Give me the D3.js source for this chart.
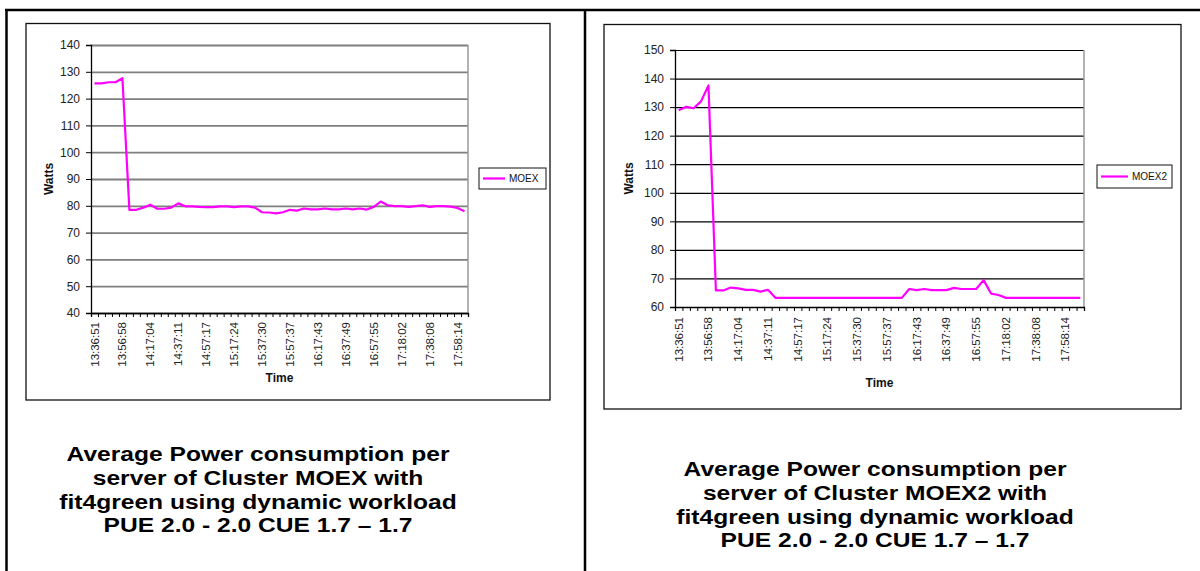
<!DOCTYPE html>
<html>
<head>
<meta charset="utf-8">
<script src="https://cdn.jsdelivr.net/npm/d3@7"></script>
<style>
  body { margin: 0; background: #fff; }
  svg { display: block; }
  text { font-family: Arial, "Liberation Sans", sans-serif; }
</style>
</head>
<body>
<svg id="page" width="1200" height="571"></svg>
<script>
// Category labels shown on the time axis (every 4th sample)
const timeTicks = ["13:36:51","13:56:58","14:17:04","14:37:11","14:57:17","15:17:24","15:37:30",
                   "15:57:37","16:17:43","16:37:49","16:57:55","17:18:02","17:38:08","17:58:14"];

// Average power per server, cluster MOEX (W), one value per sample
const moexWatts = [125.7,125.7,126.1,126.1,127.6,
  78.5,78.5,79.3,80.4,78.9,78.9,79.3,80.9,79.8,79.8,79.6,79.5,79.5,79.8,79.8,79.5,79.8,79.8,79.3,
  77.6,77.5,77.2,77.6,78.5,78.2,79.0,78.7,78.7,79.0,78.7,78.7,79.0,78.7,79.0,78.6,79.6,81.6,80.2,
  79.9,79.9,79.6,79.9,80.2,79.6,79.9,79.9,79.7,79.2,78.0];

// Average power per server, cluster MOEX2 (W)
const moex2Watts = [128.9,130.1,129.6,132.0,137.6,
  65.8,65.8,66.8,66.5,66.0,66.0,65.4,66.0,63.2,
  63.2,63.2,63.2,63.2,63.2,63.2,63.2,63.2,63.2,63.2,63.2,63.2,63.2,63.2,63.2,63.2,63.2,
  66.3,65.9,66.3,65.9,65.9,65.9,66.7,66.3,66.3,66.3,69.4,64.7,64.2,63.2,
  63.2,63.2,63.2,63.2,63.2,63.2,63.2,63.2,63.2,63.2];

const moexYTicks  = [40,50,60,70,80,90,100,110,120,130,140];
const moex2YTicks = [60,70,80,90,100,110,120,130,140,150];

const moexCaption = ["Average Power consumption per","server of Cluster MOEX with",
                     "fit4green using dynamic workload","PUE 2.0 - 2.0 CUE 1.7 \u2013 1.7"];
const moex2Caption = ["Average Power consumption per","server of Cluster MOEX2 with",
                      "fit4green using dynamic workload","PUE 2.0 - 2.0 CUE 1.7 \u2013 1.7"];

const svg = d3.select("#page");
svg.append("rect").attr("width", 1200).attr("height", 571).attr("fill", "#fff");

// Table borders around the two cells
const table = svg.append("g").attr("stroke", "#000").attr("stroke-width", 2.5);
table.append("line").attr("x1", 5).attr("x2", 1200).attr("y1", 10).attr("y2", 10);
table.append("line").attr("x1", 6.5).attr("x2", 6.5).attr("y1", 10).attr("y2", 571);
table.append("line").attr("x1", 585).attr("x2", 585).attr("y1", 10).attr("y2", 571);

function drawChart(cfg) {
  const g = svg.append("g");
  // chart frame
  g.append("rect")
    .attr("x", cfg.frame[0]).attr("y", cfg.frame[1])
    .attr("width", cfg.frame[2] - cfg.frame[0]).attr("height", cfg.frame[3] - cfg.frame[1])
    .attr("fill", "#fff").attr("stroke", "#111").attr("stroke-width", 1.3);

  const [px0, py0, px1, py1] = cfg.plot;
  const n = cfg.values.length;
  const x = d3.scaleBand().domain(d3.range(n)).range([px0, px1]);
  const xEdge = d3.scaleLinear().domain([0, n]).range([px0, px1]);
  const y = d3.scaleLinear().domain(cfg.yDomain).range([py1, py0]);

  // horizontal gridlines
  g.append("g").attr("transform", `translate(${px0},0)`)
    .call(d3.axisLeft(y).tickValues(cfg.yTicks).tickSize(-(px1 - px0)).tickFormat(""))
    .call(s => s.select(".domain").remove())
    .call(s => s.selectAll("line").attr("stroke", cfg.gridColor).attr("stroke-width", cfg.gridWidth));

  // plot area right border
  g.append("line").attr("x1", px1).attr("x2", px1).attr("y1", py0).attr("y2", py1)
    .attr("stroke", "#9a9a9a").attr("stroke-width", 1.5);

  // y axis
  g.append("g").attr("transform", `translate(${px0},0)`)
    .call(d3.axisLeft(y).tickValues(cfg.yTicks).tickSize(5).tickPadding(6))
    .call(s => s.select(".domain").attr("stroke", "#000").attr("stroke-width", 1.3))
    .call(s => s.selectAll("line").attr("stroke", "#000"))
    .call(s => s.selectAll("text").attr("font-size", 12).attr("fill", "#222")
      .style("font-family", "Arial, 'Liberation Sans', sans-serif"));

  // x axis: tick marks on category boundaries
  g.append("g").attr("transform", `translate(0,${py1})`)
    .call(d3.axisBottom(xEdge).tickValues(d3.range(n + 1)).tickSize(4).tickFormat(""))
    .call(s => s.select(".domain").attr("stroke", "#000").attr("stroke-width", 1.3))
    .call(s => s.selectAll("line").attr("stroke", "#000"));

  // x axis: category labels every 4th sample, rotated
  const labelIdx = timeTicks.map((t, k) => k * 4);
  g.append("g").attr("transform", `translate(0,${py1})`)
    .call(d3.axisBottom(x).tickValues(labelIdx).tickSize(0)
      .tickFormat(i => timeTicks[i / 4]))
    .call(s => s.select(".domain").remove())
    .call(s => s.selectAll("text")
      .attr("font-size", 11.5).attr("fill", "#222")
      .style("font-family", "Arial, 'Liberation Sans', sans-serif")
      .attr("text-anchor", "end")
      .attr("transform", "rotate(-90)")
      .attr("x", -cfg.xLabelGap).attr("y", 0).attr("dy", "0.35em"));

  // series line
  const line = d3.line().x((d, i) => x(i) + x.bandwidth() / 2).y(d => y(d));
  g.append("path").datum(cfg.values).attr("d", line)
    .attr("fill", "none").attr("stroke", "#ff00ff").attr("stroke-width", 2.2)
    .attr("stroke-linejoin", "round");

  // axis titles
  g.append("text").attr("transform", `translate(${cfg.yTitleX},${(py0 + py1) / 2}) rotate(-90)`)
    .attr("text-anchor", "middle").attr("dy", "0.35em")
    .attr("font-size", 12).attr("font-weight", "bold").attr("fill", "#111").text("Watts");
  g.append("text").attr("x", (px0 + px1) / 2).attr("y", cfg.xTitleY)
    .attr("text-anchor", "middle").attr("dy", "0.35em")
    .attr("font-size", 12).attr("font-weight", "bold").attr("fill", "#111").text("Time");

  // legend
  const [lx0, ly0, lx1, ly1] = cfg.legend;
  const lg = g.append("g");
  lg.append("rect").attr("x", lx0).attr("y", ly0).attr("width", lx1 - lx0).attr("height", ly1 - ly0)
    .attr("fill", "#fff").attr("stroke", "#111").attr("stroke-width", 1);
  const lyc = (ly0 + ly1) / 2;
  lg.append("line").attr("x1", lx0 + 4).attr("x2", lx0 + cfg.legendLine).attr("y1", lyc).attr("y2", lyc)
    .attr("stroke", "#ff00ff").attr("stroke-width", 2.2);
  lg.append("text").attr("x", lx0 + cfg.legendLine + 4).attr("y", lyc).attr("dy", "0.35em")
    .attr("font-size", 10).attr("fill", "#111").text(cfg.name);

  // caption below the chart: one text per line, widened horizontally
  const cap = g.append("g")
    .attr("transform", `translate(${cfg.capX},0) scale(1.2,1)`);
  cap.selectAll("text").data(cfg.caption).join("text")
    .attr("x", 0).attr("y", (t, k) => cfg.capY + k * 23.8)
    .attr("text-anchor", "middle")
    .attr("font-size", 20.5).attr("font-weight", "bold").attr("fill", "#000")
    .text(t => t);
}

drawChart({
  name: "MOEX", values: moexWatts, yDomain: [40, 140], yTicks: moexYTicks,
  frame: [26, 23.5, 550, 400], plot: [91, 45, 468, 313],
  gridColor: "#7f7f7f", gridWidth: 1.8, xLabelGap: 9,
  yTitleX: 48.5, xTitleY: 378,
  legend: [479, 168, 546, 189], legendLine: 26,
  caption: moexCaption, capX: 258, capY: 461
});

drawChart({
  name: "MOEX2", values: moex2Watts, yDomain: [60, 150], yTicks: moex2YTicks,
  frame: [604, 24.5, 1181, 409], plot: [675, 50, 1084, 307],
  gridColor: "#000", gridWidth: 1.2, xLabelGap: 10,
  yTitleX: 629, xTitleY: 383,
  legend: [1097, 165, 1172, 188], legendLine: 31,
  caption: moex2Caption, capX: 875, capY: 476
});
</script>
</body>
</html>
